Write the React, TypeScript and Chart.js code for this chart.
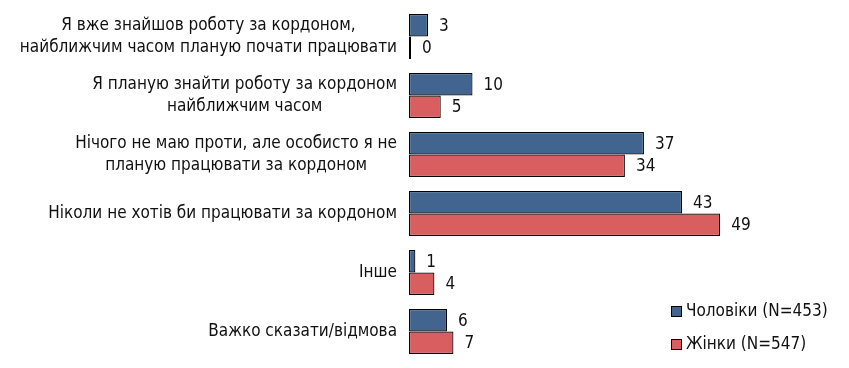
import React, { useEffect, useRef } from "react";
import { Chart, registerables } from "chart.js";

Chart.register(...registerables);

const categories: string[][] = [
  ["Я вже знайшов роботу за кордоном,", "найближчим часом планую почати працювати"],
  ["Я планую знайти роботу за кордоном", "найближчим часом"],
  ["Нічого не маю проти, але особисто я не", "планую працювати за кордоном"],
  ["Ніколи не хотів би працювати за кордоном"],
  ["Інше"],
  ["Важко сказати/відмова"],
];
const menLabel = "Чоловіки (N=453)";
const womenLabel = "Жінки (N=547)";
const menValues = [3, 10, 37, 43, 1, 6];
const womenValues = [0, 5, 34, 49, 4, 7];

const BLUE = "#41658f";
const RED = "#d95e5f";
const FONT = '17px "DejaVu Sans Condensed", "DejaVu Sans", sans-serif';

export default function App() {
  const ref = useRef<HTMLCanvasElement | null>(null);
  useEffect(() => {
    if (!ref.current) return;
    const customPlugin = {
      id: "custom",
      afterDatasetsDraw(chart: any) {
        const ctx = chart.ctx;
        ctx.save();
        ctx.font = FONT;
        ctx.fillStyle = "#111";
        ctx.textBaseline = "middle";
        ctx.textAlign = "left";
        chart.data.datasets.forEach((ds: any, di: number) => {
          const meta = chart.getDatasetMeta(di);
          meta.data.forEach((bar: any, i: number) => {
            ctx.fillText(String(ds.data[i]), bar.x + 11, bar.y + 1);
          });
        });
        // y labels
        const yScale = chart.scales.y;
        const rightX = 397;
        categories.forEach((lines, i) => {
          const cy = yScale.getPixelForValue(i);
          const w = Math.max(...lines.map((l) => ctx.measureText(l).width));
          const cx = rightX - w / 2;
          ctx.textAlign = "center";
          const lh = 22;
          const start = cy - ((lines.length - 1) * lh) / 2;
          lines.forEach((l, j) => ctx.fillText(l, cx, start + j * lh));
        });
        // legend
        const items = [
          { label: menLabel, color: BLUE, y: 312 },
          { label: womenLabel, color: RED, y: 345 },
        ];
        items.forEach((it) => {
          ctx.fillStyle = it.color;
          ctx.fillRect(671.5, it.y - 5.5, 10, 10);
          ctx.strokeStyle = "#000";
          ctx.lineWidth = 1;
          ctx.strokeRect(671.5, it.y - 5.5, 10, 10);
          ctx.fillStyle = "#111";
          ctx.textAlign = "left";
          ctx.fillText(it.label, 686, it.y);
        });
        ctx.restore();
      },
    };
    const chart = new Chart(ref.current, {
      type: "bar",
      data: {
        labels: categories.map((c) => c.join(" ")),
        datasets: [
          {
            label: menLabel,
            data: menValues,
            backgroundColor: BLUE,
            borderColor: "#000",
            borderWidth: 1.2,
            borderSkipped: false,
            barPercentage: 1,
            categoryPercentage: 0.765,
          },
          {
            label: womenLabel,
            data: womenValues,
            backgroundColor: RED,
            borderColor: "#000",
            borderWidth: 1.2,
            borderSkipped: false,
            barPercentage: 1,
            categoryPercentage: 0.765,
            minBarLength: 2,
          },
        ],
      },
      options: {
        indexAxis: "y",
        responsive: false,
        animation: false,
        layout: { padding: { left: 409, right: 59, top: 7, bottom: 7 } },
        scales: {
          x: { display: false, min: 0, max: 60 },
          y: { display: false },
        },
        plugins: { legend: { display: false }, tooltip: { enabled: false } },
      },
      plugins: [customPlugin],
    });
    return () => chart.destroy();
  }, []);
  return (
    <div style={{ position: "fixed", left: 0, top: 0, width: 849, height: 368, background: "#fff" }}>
      <canvas ref={ref} width={849} height={368} />
    </div>
  );
}
